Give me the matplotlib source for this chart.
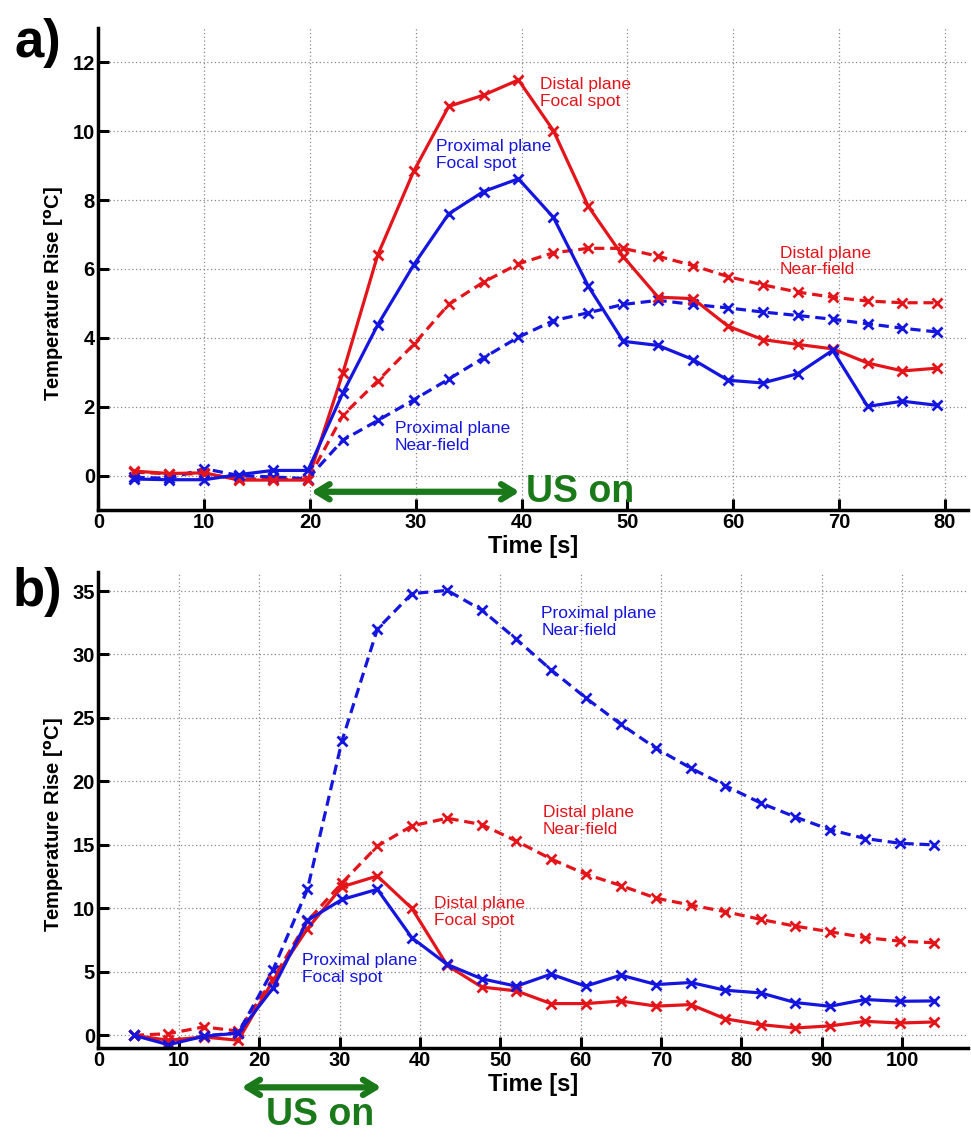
import matplotlib
matplotlib.use("Agg")
import matplotlib.pyplot as plt

plt.rcParams['font.family'] = ['Liberation Sans', 'DejaVu Sans']

# ---------------- data: panel a ----------------
time_a = [3.4, 6.7, 10.0, 13.3, 16.5, 19.8, 23.1, 26.4, 29.8, 33.1, 36.4, 39.7,
          43.0, 46.3, 49.6, 52.9, 56.2, 59.5, 62.8, 66.1, 69.4, 72.7, 76.0, 79.3]
a_distal_focal = [0.13, 0.06, 0.08, -0.13, -0.13, -0.13, 2.98, 6.41, 8.84, 10.72, 11.05, 11.49,
                  10.02, 7.82, 6.36, 5.18, 5.14, 4.34, 3.95, 3.81, 3.68, 3.27, 3.04, 3.12]
a_proximal_focal = [-0.10, -0.12, -0.12, 0.03, 0.15, 0.15, 2.40, 4.38, 6.12, 7.60, 8.25, 8.62,
                    7.50, 5.50, 3.90, 3.78, 3.37, 2.77, 2.69, 2.96, 3.64, 2.01, 2.16, 2.04]
a_distal_near = [0.10, 0.05, 0.05, -0.10, -0.10, -0.12, 1.75, 2.75, 3.81, 4.97, 5.62, 6.15,
                 6.47, 6.60, 6.60, 6.37, 6.10, 5.78, 5.54, 5.33, 5.18, 5.07, 5.02, 5.02]
a_proximal_near = [-0.05, -0.08, 0.20, 0.00, -0.04, -0.09, 1.03, 1.60, 2.20, 2.80, 3.42, 4.02,
                   4.50, 4.73, 4.97, 5.09, 4.97, 4.87, 4.75, 4.65, 4.54, 4.41, 4.28, 4.17]

# ---------------- data: panel b ----------------
time_b = [4.4, 8.7, 13.1, 17.4, 21.7, 26.0, 30.3, 34.7, 39.0, 43.4, 47.7, 52.0,
          56.3, 60.6, 65.0, 69.4, 73.7, 78.0, 82.4, 86.7, 91.0, 95.4, 99.7, 104.0]
b_distal_focal = [0.0, -0.39, -0.13, -0.39, 4.3, 8.4, 11.7, 12.55, 10.0, 5.5, 3.8, 3.5,
                  2.5, 2.5, 2.7, 2.3, 2.42, 1.3, 0.84, 0.58, 0.74, 1.1, 0.97, 1.05]
b_proximal_focal = [0.0, -0.74, -0.08, 0.18, 3.7, 9.05, 10.7, 11.5, 7.68, 5.58, 4.45, 3.87,
                    4.82, 3.87, 4.74, 4.0, 4.16, 3.55, 3.34, 2.58, 2.29, 2.82, 2.68, 2.71]
b_distal_near = [0.0, 0.13, 0.66, 0.34, 4.4, 9.0, 12.0, 14.9, 16.5, 17.1, 16.6, 15.3,
                 13.9, 12.7, 11.8, 10.8, 10.26, 9.74, 9.13, 8.6, 8.16, 7.7, 7.42, 7.29]
b_proximal_near = [0.0, -0.6, -0.05, 0.2, 5.13, 11.5, 23.2, 32.0, 34.8, 35.05, 33.5, 31.2,
                   28.8, 26.6, 24.5, 22.6, 21.05, 19.66, 18.3, 17.2, 16.2, 15.5, 15.13, 15.0]

xticks_a = [0, 10, 20, 30, 40, 50, 60, 70, 80]
yticks_a = [0, 2, 4, 6, 8, 10, 12]
xticks_b = [0, 10, 20, 30, 40, 50, 60, 70, 80, 90, 100]
yticks_b = [0, 5, 10, 15, 20, 25, 30, 35]

RED = '#e4141b'
BLUE = '#1515e0'
GREEN = '#1a7a1a'

fig = plt.figure(figsize=(9.71, 11.41), dpi=100)
ax_a = fig.add_axes([0.1014, 0.553, 0.8956, 0.4225])
ax_b = fig.add_axes([0.1014, 0.0815, 0.8956, 0.4172])

LW = 2.3
dash = (0, (3.2, 1.8))
mk = dict(marker='x', markersize=7, markeredgewidth=2.0)


def style(ax, xticks, yticks, xlim, ylim, label_y):
    ax.set_xlim(*xlim)
    ax.set_ylim(*ylim)
    ax.set_xticks(xticks)
    ax.set_yticks(yticks)
    ax.grid(True, linestyle=(0, (1, 2)), color='#8a8a8a', linewidth=0.9)
    ax.set_axisbelow(True)
    for s in ['top', 'right']:
        ax.spines[s].set_visible(False)
    for s in ['left', 'bottom']:
        ax.spines[s].set_linewidth(2.5)
    ax.tick_params(direction='in', length=8, width=2.2, labelsize=14.5, pad=2.5)
    for lab in ax.get_xticklabels() + ax.get_yticklabels():
        lab.set_fontweight('bold')
    ax.set_xlabel('Time [s]', fontsize=17, fontweight='bold', labelpad=2)
    ax.set_ylabel(r'Temperature Rise [$^{\mathbf{o}}$C]', fontsize=14.5,
                  fontweight='bold')
    ax.yaxis.set_label_coords(-0.037, label_y)


# panel a
ax_a.plot(time_a, a_distal_near, color=RED, lw=LW, ls=dash, **mk)
ax_a.plot(time_a, a_proximal_near, color=BLUE, lw=LW, ls=dash, **mk)
ax_a.plot(time_a, a_distal_focal, color=RED, lw=LW, **mk)
ax_a.plot(time_a, a_proximal_focal, color=BLUE, lw=LW, **mk)
style(ax_a, xticks_a, yticks_a, (0, 82.2), (-1, 13), 0.45)

txt = dict(fontsize=12.5, va='center', ha='left', linespacing=1.15)
ax_a.text(41.7, 11.1, 'Distal plane\nFocal spot', color=RED, **txt)
ax_a.text(31.95, 9.3, 'Proximal plane\nFocal spot', color=BLUE, **txt)
ax_a.text(28.0, 1.12, 'Proximal plane\nNear-field', color=BLUE, **txt)
ax_a.text(64.4, 6.22, 'Distal plane\nNear-field', color=RED, **txt)

arrow = dict(arrowstyle='<->,head_length=0.9,head_width=0.55', color=GREEN, lw=4.5,
             shrinkA=0, shrinkB=0)
ax_a.annotate('', xy=(39.8, -0.47), xytext=(20.1, -0.47), arrowprops=arrow,
              annotation_clip=False)
ax_a.text(40.4, -0.47, 'US on', color=GREEN, fontsize=27, fontweight='bold',
          va='center', ha='left')

# panel b
ax_b.plot(time_b, b_distal_near, color=RED, lw=LW, ls=dash, **mk)
ax_b.plot(time_b, b_proximal_near, color=BLUE, lw=LW, ls=dash, **mk)
ax_b.plot(time_b, b_distal_focal, color=RED, lw=LW, **mk)
ax_b.plot(time_b, b_proximal_focal, color=BLUE, lw=LW, **mk)
style(ax_b, xticks_b, yticks_b, (0, 108.2), (-1.0, 36.5), 0.47)

ax_b.text(55.1, 32.57, 'Proximal plane\nNear-field', color=BLUE, **txt)
ax_b.text(55.3, 16.86, 'Distal plane\nNear-field', color=RED, **txt)
ax_b.text(41.8, 9.7, 'Distal plane\nFocal spot', color=RED, **txt)
ax_b.text(25.3, 5.2, 'Proximal plane\nFocal spot', color=BLUE, **txt)

ax_b.annotate('', xy=(35.2, -4.1), xytext=(17.8, -4.1), arrowprops=arrow,
              annotation_clip=False)
ax_b.text(27.6, -6.3, 'US on', color=GREEN, fontsize=27, fontweight='bold',
          va='center', ha='center', clip_on=False)

fig.text(0.039, 0.962, 'a)', fontsize=38, fontweight='heavy', ha='center', va='center')
fig.text(0.039, 0.481, 'b)', fontsize=38, fontweight='heavy', ha='center', va='center')

fig.savefig('out.png', dpi=100)
